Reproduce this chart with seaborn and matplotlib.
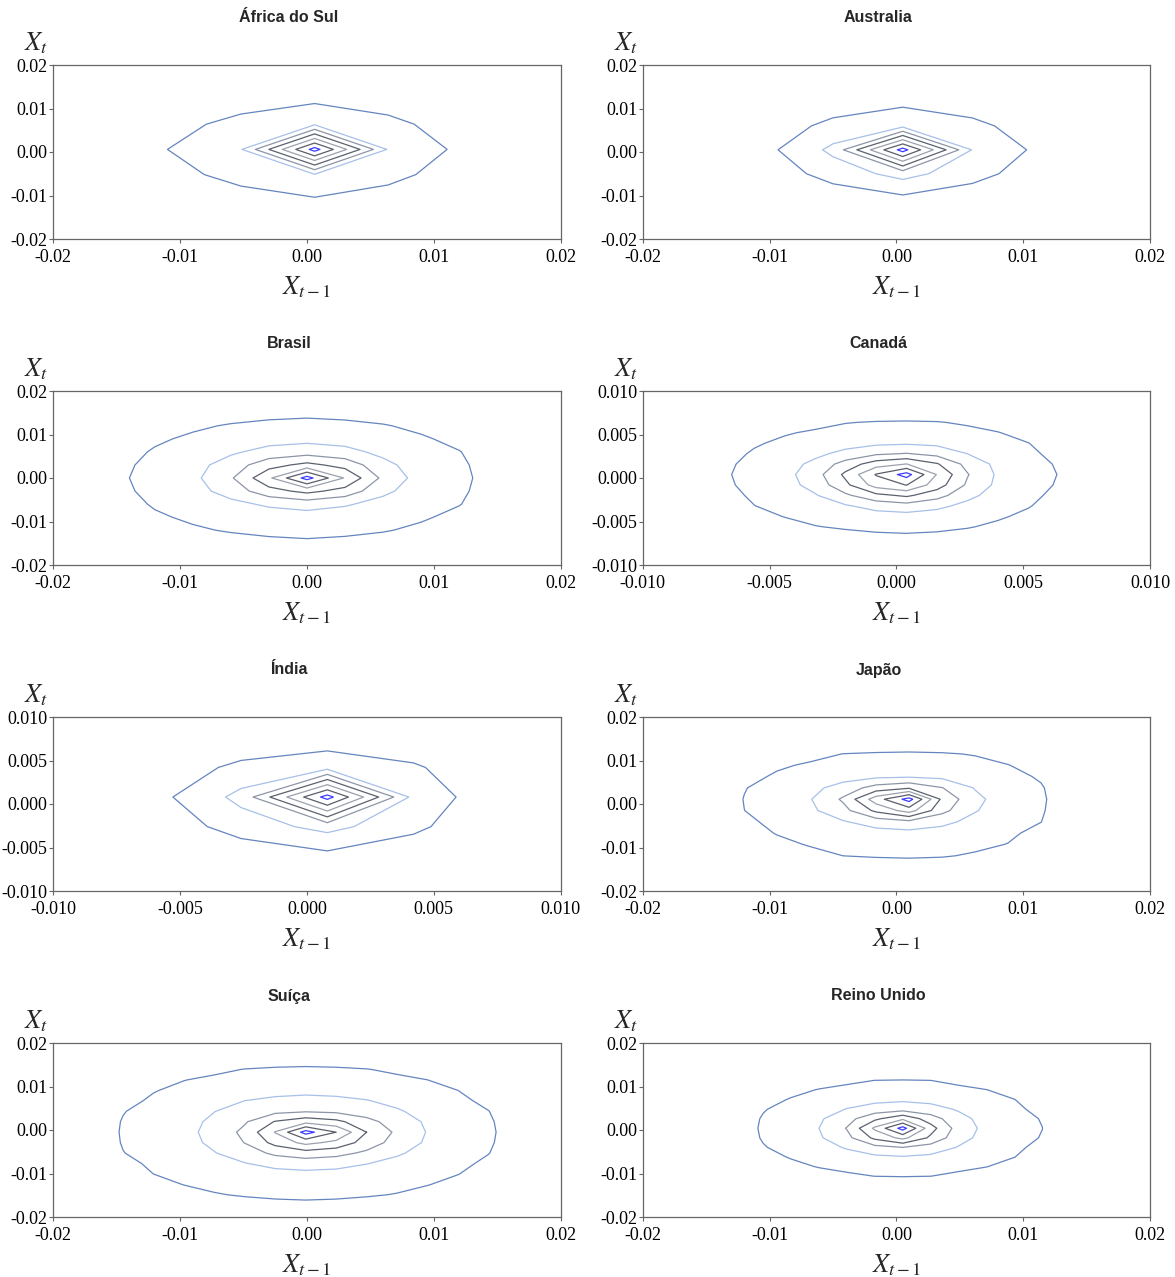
import numpy as np
import matplotlib
matplotlib.use("Agg")
import matplotlib.pyplot as plt
import seaborn as sns

# Countries, one lag-plot density panel each (row-major, two columns)
countries = ["África do Sul", "Australia", "Brasil", "Canadá",
             "Índia", "Japão", "Suíça", "Reino Unido"]
axis_limit = [0.02, 0.02, 0.02, 0.01, 0.01, 0.02, 0.02, 0.02]
tick_step = [0.01, 0.01, 0.01, 0.005, 0.005, 0.01, 0.01, 0.01]
tick_decimals = [2, 2, 2, 3, 3, 2, 2, 2]

# Location of the density peak (X_{t-1}, X_t) and the estimation grid spacing
peak_x = [0.0006, 0.0005, 0.0000, 0.0004, 0.0008, 0.0010, -0.0001, 0.0005]
peak_y = [0.0006, 0.0005, 0.0000, 0.0004, 0.0008, 0.0011, -0.0005, 0.0004]
grid_step = [0.0058, 0.0055, 0.0030, 0.0012, 0.0034, 0.0026, 0.0024, 0.0022]

# Extent of each density contour, from the outermost level to the peak level
left_edge = [
    [-0.0110, -0.0050, -0.0040, -0.0030, -0.0020, -0.0010, 0.0002],
    [-0.0094, -0.0053, -0.0042, -0.0032, -0.0022, -0.0012, 0.0002],
    [-0.0144, -0.0080, -0.0058, -0.0043, -0.0028, -0.0017, -0.0004],
    [-0.0066, -0.0038, -0.00285, -0.00216, -0.00158, -0.00107, 0.00006],
    [-0.0053, -0.0031, -0.0018, -0.0012, -0.0006, 0.0000, 0.0006],
    [-0.0122, -0.0066, -0.0044, -0.0033, -0.0023, -0.0012, 0.0006],
    [-0.0151, -0.0086, -0.0054, -0.0039, -0.0026, -0.0015, -0.0004],
    [-0.01125, -0.0061, -0.0040, -0.0027, -0.0019, -0.0011, 0.0002],
]
right_edge = [
    [0.0114, 0.0061, 0.0051, 0.0041, 0.0031, 0.0021, 0.0010],
    [0.0106, 0.0058, 0.0048, 0.0038, 0.0028, 0.0018, 0.0008],
    [0.0137, 0.0072, 0.0057, 0.0044, 0.0029, 0.0019, 0.0004],
    [0.00636, 0.00376, 0.00286, 0.00216, 0.00158, 0.00111, 0.0006],
    [0.0063, 0.0037, 0.0032, 0.0025, 0.0018, 0.0012, 0.0010],
    [0.0123, 0.0069, 0.0048, 0.0034, 0.0027, 0.0019, 0.0014],
    [0.0152, 0.0093, 0.0067, 0.0047, 0.0035, 0.0023, 0.0003],
    [0.01157, 0.00625, 0.0042, 0.0031, 0.0023, 0.0017, 0.0008],
]
bottom_edge = [
    [-0.0106, -0.0050, -0.0040, -0.0030, -0.0020, -0.0010, 0.0002],
    [-0.0099, -0.0055, -0.0043, -0.0033, -0.0023, -0.0013, 0.0002],
    [-0.0145, -0.0069, -0.0051, -0.0034, -0.0023, -0.0016, -0.0004],
    [-0.0065, -0.00375, -0.00288, -0.0021, -0.00162, -0.00097, 0.00017],
    [-0.0054, -0.0030, -0.0020, -0.0014, -0.0008, -0.0002, 0.0006],
    [-0.0131, -0.0055, -0.0037, -0.0025, -0.0018, -0.0012, 0.0008],
    [-0.0166, -0.0090, -0.0066, -0.0046, -0.0033, -0.0023, -0.0009],
    [-0.01088, -0.0060, -0.0040, -0.0031, -0.0023, -0.0011, 0.0000],
]
top_edge = [
    [0.0115, 0.0060, 0.0050, 0.0040, 0.0030, 0.0020, 0.0010],
    [0.0108, 0.0052, 0.0043, 0.0033, 0.0023, 0.0013, 0.0008],
    [0.01425, 0.0078, 0.0051, 0.0034, 0.0023, 0.0014, 0.0004],
    [0.00672, 0.0038, 0.00284, 0.00219, 0.00162, 0.00112, 0.00055],
    [0.0066, 0.0036, 0.0031, 0.0025, 0.0019, 0.0013, 0.0010],
    [0.01264, 0.0060, 0.0048, 0.0036, 0.0025, 0.0017, 0.0014],
    [0.0150, 0.0083, 0.0041, 0.0028, 0.0016, 0.0012, -0.0002],
    [0.01165, 0.0065, 0.0041, 0.0031, 0.0025, 0.0015, 0.0008],
]

level_colors = ["#6585bf", "#a7c0e8", "#8c95a6", "#5b616d",
                "#9aa1ad", "#595e69", "#3c3cff"]


def level_surface(cx, cy, h, lim, L, R, B, T, p=2.0):
    """Surface whose integer level sets follow the given contour extents,
    sampled on a regular grid anchored at the peak."""
    n = int(np.ceil(lim * 1.4 / h)) + 1
    xs = cx + h * np.arange(-n, n + 1)
    ys = cy + h * np.arange(-n, n + 1)
    X, Y = np.meshgrid(xs, ys)
    dx, dy = X - cx, Y - cy
    K = len(L)
    d = np.empty((K,) + X.shape)
    for k in range(K):
        a = np.where(dx >= 0, R[k] - cx, cx - L[k])
        b = np.where(dy >= 0, T[k] - cy, cy - B[k])
        a = np.maximum(a, 1e-5)
        b = np.maximum(b, 1e-5)
        q = (np.abs(dx) / a) ** p + (np.abs(dy) / b) ** p
        d[k] = 1.0 - q ** (1.0 / p)
    inside = np.cumprod(d >= 0, axis=0)
    m = inside.sum(axis=0)
    F = 3.0 * d[0]
    for j in range(1, K):
        sel = m == j
        frac = d[j - 1] / (d[j - 1] - d[j] + 1e-12)
        F = np.where(sel, (j - 1) + frac, F)
    F = np.where(m == K, (K - 1) + 0.4 * d[K - 1], F)
    return X, Y, F


sns.set_style("white")
plt.rcParams["mathtext.fontset"] = "stix"

fig = plt.figure(figsize=(11.75, 12.77), dpi=100)
W, H = 1175.0, 1277.0
col_left = [53.3, 642.7]
ax_w = 507.4
row_top = [65.0, 391.0, 717.0, 1043.0]
ax_h = 174.0

serif = ["Liberation Serif", "DejaVu Serif"]
sans = ["Liberation Sans", "DejaVu Sans"]

for i, name in enumerate(countries):
    r, c = divmod(i, 2)
    ax = fig.add_axes([col_left[c] / W, 1 - (row_top[r] + ax_h) / H,
                       ax_w / W, ax_h / H])
    lim = axis_limit[i]
    X, Y, F = level_surface(peak_x[i], peak_y[i], grid_step[i], lim,
                            left_edge[i], right_edge[i],
                            bottom_edge[i], top_edge[i])
    ax.contour(X, Y, F, levels=np.arange(len(level_colors)),
               colors=level_colors, linewidths=0.9)
    ax.set_xlim(-lim, lim)
    ax.set_ylim(-lim, lim)
    ticks = np.round(np.arange(-lim, lim + tick_step[i] / 2, tick_step[i]), 6)
    labels = [f"{abs(t):.{tick_decimals[i]}f}" if abs(t) < 1e-12
              else f"{t:.{tick_decimals[i]}f}" for t in ticks]
    ax.set_xticks(ticks)
    ax.set_yticks(ticks)
    ax.set_xticklabels(labels, fontfamily=serif, fontsize=13)
    ax.set_yticklabels(labels, fontfamily=serif, fontsize=13)
    ax.tick_params(direction="out", length=3, width=0.8, color="#666666",
                   labelcolor="black",
                   bottom=True, left=True, top=False, right=False)
    ax.tick_params(axis="x", pad=4.5)
    ax.tick_params(axis="y", pad=1.0)
    for s in ax.spines.values():
        s.set_color("#666666")
        s.set_linewidth(0.9)
    ax.grid(False)
    ax.set_facecolor("white")

    ax.text(0.4645, 1 + 47 / ax_h, name, transform=ax.transAxes,
            ha="center", va="center", fontfamily=sans, fontweight="bold",
            fontsize=11.5)
    # X_t above the vertical axis, X_{t-1} below the horizontal axis
    ax.text(-17 / ax_w, 1 + 22 / ax_h, r"$X_{t}$", transform=ax.transAxes,
            ha="center", va="center", fontsize=19)
    ax.text(0.5, -48 / ax_h, r"$X_{\mathit{t-1}}$", transform=ax.transAxes,
            ha="center", va="center", fontsize=19)

fig.savefig("out.png", dpi=100, facecolor="white")
